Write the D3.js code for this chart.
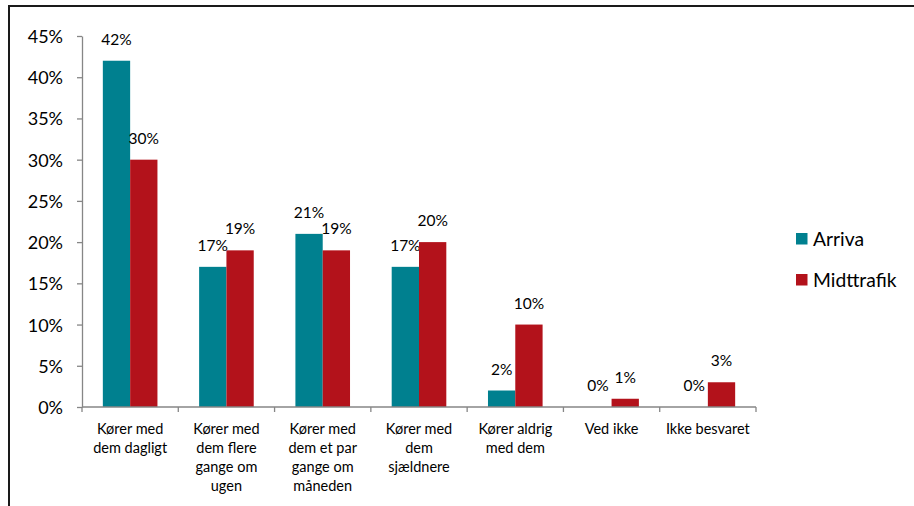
<!DOCTYPE html>
<html>
<head>
<meta charset="utf-8">
<script src="https://cdn.jsdelivr.net/npm/d3@7"></script>
<style>
  html, body { margin: 0; padding: 0; background: #fff; }
  svg { display: block; font-family: Lato, "Liberation Sans", Arial, sans-serif; }
</style>
</head>
<body>
<svg id="chart" width="914" height="506"></svg>
<script>
const categories = [
  "Kører med\ndem dagligt",
  "Kører med\ndem flere\ngange om\nugen",
  "Kører med\ndem et par\ngange om\nmåneden",
  "Kører med\ndem\nsjældnere",
  "Kører aldrig\nmed dem",
  "Ved ikke",
  "Ikke besvaret"
];
const seriesNames = ["Arriva", "Midttrafik"];
const arrivaValues = [42, 17, 21, 17, 2, 0, 0];
const midttrafikValues = [30, 19, 19, 20, 10, 1, 3];
const yTicks = [0, 5, 10, 15, 20, 25, 30, 35, 40, 45];
const colors = ["#00808F", "#B3121B"];

const seriesValues = [arrivaValues, midttrafikValues];
const svg = d3.select("#chart");
const FONT = "Lato, 'Liberation Sans', Arial, sans-serif";

// Frame border
svg.append("path")
  .attr("d", "M9,507 L9,6 L915,6")
  .attr("fill", "none")
  .attr("stroke", "#1a1a1a")
  .attr("stroke-width", 2);

const plotLeft = 82, plotRight = 756, plotTop = 36, plotBottom = 407;
const y = d3.scaleLinear().domain([0, 45]).range([plotBottom, plotTop]);
const x = d3.scaleBand().domain(categories).range([plotLeft, plotRight]).padding(0);
const xs = d3.scaleBand().domain(seriesNames).range([0, x.bandwidth()])
  .paddingInner(0).paddingOuter(0.763);

// Y axis
const yAxis = d3.axisLeft(y).tickValues(yTicks).tickSize(5).tickSizeOuter(0)
  .tickFormat(d => d + "%");
const gy = svg.append("g").attr("transform", `translate(${plotLeft},0)`).call(yAxis);
gy.select(".domain").attr("stroke", "#868686").attr("stroke-width", 1.3);
gy.selectAll(".tick line").attr("stroke", "#868686").attr("stroke-width", 1.3);
gy.selectAll(".tick text").attr("x", -19).attr("dy", "0.36em")
  .attr("font-size", 18).attr("fill", "#000")
  .attr("font-family", FONT);

// Bars
categories.forEach((c, i) => {
  seriesNames.forEach((s, j) => {
    const v = seriesValues[j][i];
    const bx = x(c) + xs(s);
    if (v > 0) {
      svg.append("rect")
        .attr("x", bx).attr("y", y(v))
        .attr("width", xs.bandwidth()).attr("height", y(0) - y(v))
        .attr("fill", colors[j]);
    }
    svg.append("text")
      .attr("x", bx + xs.bandwidth() / 2)
      .attr("y", y(v) - 16)
      .attr("text-anchor", "middle")
      .attr("font-size", 15.5)
      .attr("fill", "#000")
      .text(v + "%");
  });
});

// X axis
const gx = svg.append("g").attr("transform", `translate(0,${plotBottom})`);
gx.append("line").attr("x1", plotLeft).attr("x2", plotRight).attr("y1", 0).attr("y2", 0)
  .attr("stroke", "#868686").attr("stroke-width", 1.3);
const bounds = categories.map(c => x(c)).concat([plotRight]);
gx.selectAll(".xt").data(bounds).enter().append("line")
  .attr("x1", d => d).attr("x2", d => d).attr("y1", 0).attr("y2", 5)
  .attr("stroke", "#868686").attr("stroke-width", 1.3);
categories.forEach(c => {
  const t = gx.append("text")
    .attr("x", x(c) + x.bandwidth() / 2)
    .attr("y", 27)
    .attr("text-anchor", "middle")
    .attr("font-size", 14.5)
    .attr("fill", "#000");
  c.split("\n").forEach((line, k) => {
    t.append("tspan").attr("x", x(c) + x.bandwidth() / 2)
      .attr("y", 27 + k * 19).text(line);
  });
});

// Legend
seriesNames.forEach((s, j) => {
  const ly = 233 + j * 41;
  svg.append("rect").attr("x", 796).attr("y", ly).attr("width", 11.5).attr("height", 11.5)
    .attr("fill", colors[j]);
  svg.append("text").attr("x", 813).attr("y", ly + 12.5)
    .attr("font-size", 19.3).attr("fill", "#000").text(s);
});
</script>
</body>
</html>
